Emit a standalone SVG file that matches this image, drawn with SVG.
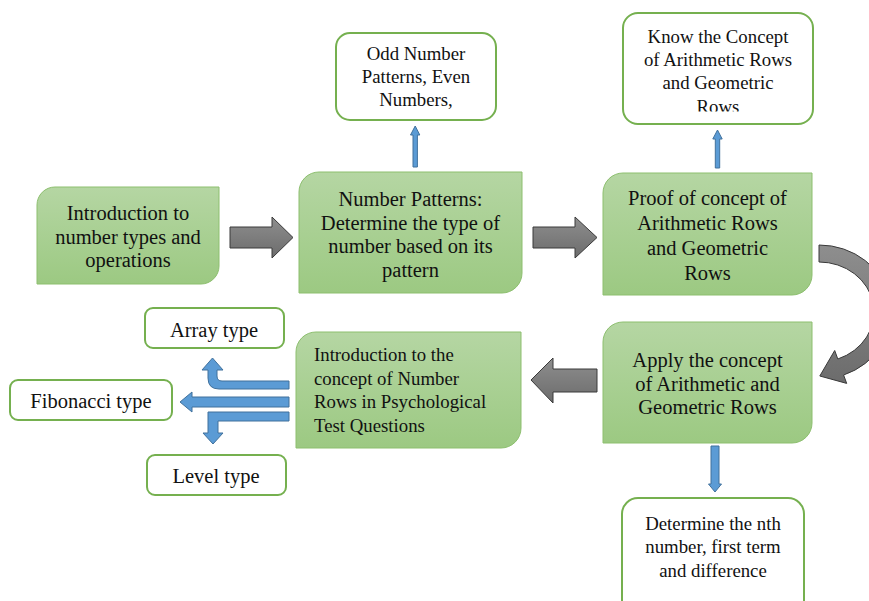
<svg xmlns="http://www.w3.org/2000/svg" width="869" height="601" viewBox="0 0 869 601">
<defs>
<linearGradient id="gGreen" x1="0" y1="0" x2="0" y2="1">
<stop offset="0" stop-color="#b5d6a3"/>
<stop offset="1" stop-color="#9cc982"/>
</linearGradient>
<linearGradient id="gGray" x1="0" y1="0" x2="0" y2="1">
<stop offset="0" stop-color="#8e8e8e"/>
<stop offset="1" stop-color="#6c6c6c"/>
</linearGradient>
<clipPath id="clipKnow"><rect x="600" y="0" width="240" height="111.5"/></clipPath>
<style>
.gbox{fill:url(#gGreen);stroke:#8dbf6f;stroke-width:1}
.wbox{fill:#ffffff;stroke:#75b04f;stroke-width:2}
.t{font-family:"Liberation Serif","Times New Roman",serif;font-size:20.5px;fill:#111111;text-anchor:middle}
.s{font-size:18.8px}
.tl{text-anchor:start}
.gray{fill:url(#gGray);stroke:#3a3a3a;stroke-width:1}
.blue{fill:#5b9bd5;stroke:#41719c;stroke-width:1}
</style>
</defs>

<g id="connectors">
<path class="gray" d="M230,227 H272 V217 L293,237.5 L272,258 V248 H230 Z"/>
<path class="gray" d="M533,227 H575 V217 L597,237.5 L575,258 V248 H533 Z"/>
<path class="gray" d="M531,380 L553,358 V369 H597 V392 H553 V403 Z"/>
<path class="gray" d="M819,245 A72,67 0 0 1 843.6,375 L846.7,383.4 L819.8,376 L834.7,350.5 L837.8,359 A55,50 0 0 0 819,262 Z"/>
<path class="blue" d="M413,167 V135 H410.5 L415.2,126 L419.8,135 H417.4 V167 Z"/>
<path class="blue" d="M715.3,168 V139 H712.8 L717.5,130 L722.2,139 H719.7 V168 Z"/>
<path class="blue" d="M711,446 V484 H708.5 L715,492 L721.5,484 H719 V446 Z"/>
<path class="blue" d="M289,381 H222 Q217,381 217,376 V370 H223 L212.5,358 L202,370 H208 V378 Q208,389 219,389 H289 Z"/>
<path class="blue" d="M289,397 H192 V392 L180,402 L192,412 V407 H289 Z"/>
<path class="blue" d="M289,412 H208 V433 H203 L213,444 L223,433 H218 V421 H289 Z"/>
</g>

<g id="n1">
<path class="gbox" d="M55,187 H219 V266 A18,18 0 0 1 201,284 H37 V205 A18,18 0 0 1 55,187 Z"/>
<text class="t" x="128" y="220">Introduction to</text>
<text class="t" x="128" y="243.5">number types and</text>
<text class="t" x="128" y="267">operations</text>
</g>

<g id="n2">
<path class="gbox" d="M319,172 H522 V273 A20,20 0 0 1 502,293 H299 V192 A20,20 0 0 1 319,172 Z"/>
<text class="t" x="410.5" y="206">Number Patterns:</text>
<text class="t" x="410.5" y="229.5">Determine the type of</text>
<text class="t" x="410.5" y="253">number based on its</text>
<text class="t" x="410.5" y="276.5">pattern</text>
</g>

<g id="n3">
<path class="gbox" d="M623,173 H812 V275 A20,20 0 0 1 792,295 H603 V193 A20,20 0 0 1 623,173 Z"/>
<text class="t" x="707.5" y="204.5">Proof of concept of</text>
<text class="t" x="707.5" y="229.5">Arithmetic Rows</text>
<text class="t" x="707.5" y="254.5">and Geometric</text>
<text class="t" x="707.5" y="279.5">Rows</text>
</g>

<g id="n4">
<path class="gbox" d="M623,322 H812 V423 A20,20 0 0 1 792,443 H603 V342 A20,20 0 0 1 623,322 Z"/>
<text class="t" x="707.5" y="367">Apply the concept</text>
<text class="t" x="707.5" y="390.5">of Arithmetic and</text>
<text class="t" x="707.5" y="414">Geometric Rows</text>
</g>

<g id="n5">
<path class="gbox" d="M316,332 H521 V428 A20,20 0 0 1 501,448 H296 V352 A20,20 0 0 1 316,332 Z"/>
<text class="t s tl" x="314" y="361">Introduction to the</text>
<text class="t s tl" x="314" y="384.5">concept of Number</text>
<text class="t s tl" x="314" y="408">Rows in Psychological</text>
<text class="t s tl" x="314" y="431.5">Test Questions</text>
</g>

<g id="n6">
<rect class="wbox" x="336" y="33" width="160" height="87" rx="14"/>
<text class="t s" x="416" y="60">Odd Number</text>
<text class="t s" x="416" y="83">Patterns, Even</text>
<text class="t s" x="416" y="106">Numbers,</text>
</g>

<g id="n7">
<rect class="wbox" x="623" y="13" width="190" height="111" rx="15"/>
<text class="t s" x="718" y="43">Know the Concept</text>
<text class="t s" x="718" y="66">of Arithmetic Rows</text>
<text class="t s" x="718" y="89">and Geometric</text>
<text class="t s" x="718" y="113" clip-path="url(#clipKnow)">Rows</text>
</g>

<g id="n8">
<rect class="wbox" x="145" y="308" width="139" height="40" rx="8"/>
<text class="t" x="214" y="337">Array type</text>
</g>

<g id="n9">
<rect class="wbox" x="10" y="380" width="162" height="40" rx="8"/>
<text class="t" x="91" y="408">Fibonacci type</text>
</g>

<g id="n10">
<rect class="wbox" x="147" y="455" width="139" height="40" rx="8"/>
<text class="t" x="216" y="483">Level type</text>
</g>

<g id="n11">
<rect class="wbox" x="622" y="498" width="182" height="120" rx="16"/>
<text class="t s" x="713" y="530">Determine the nth</text>
<text class="t s" x="713" y="553">number, first term</text>
<text class="t s" x="713" y="577">and difference</text>
</g>
</svg>
